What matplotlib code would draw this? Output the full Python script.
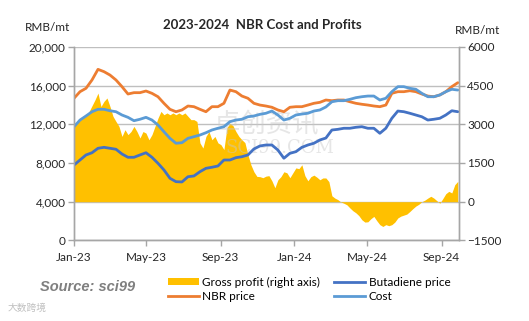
import pandas as pd
import numpy as np
import matplotlib
matplotlib.use("Agg")
import matplotlib.pyplot as plt
import matplotlib.dates as mdates
from matplotlib.ticker import FuncFormatter, FixedLocator
from matplotlib.patches import Patch
from matplotlib.lines import Line2D

plt.rcParams['font.family'] = ['Lato', 'DejaVu Sans']

# ~10-day samples, Jan 1 2023 .. Sep 28 2024 (RMB/mt)
price_dates = pd.date_range("2023-01-01", "2024-09-28", periods=65)
nbr_price = [14690, 15370, 15720, 16580, 17680, 17440, 17090, 16580, 15890, 15130,
             15270, 15270, 15440, 15200, 14850, 14170, 13550, 13300, 13480, 13890,
             13820, 13550, 13300, 13820, 13820, 14170, 15540, 15370, 14920, 14690,
             14170, 13990, 13890, 13760, 13480, 13300, 13760, 13820, 13820, 13990,
             14170, 14270, 14510, 14440, 14510, 14510, 14330, 14170, 14070, 13990,
             13890, 13820, 13990, 15200, 15370, 15370, 15470, 15370, 15130, 14920,
             14850, 15030, 15370, 15890, 16300]
cost = [11750, 12440, 12860, 13300, 13550, 13550, 13400, 13300, 12960, 12720,
        12370, 12520, 12720, 12440, 11930, 11230, 10550, 10040, 10100, 10550,
        10720, 10890, 11130, 11410, 11590, 11750, 12270, 12440, 12520, 12780,
        12860, 13030, 13140, 13370, 12960, 12440, 12620, 12960, 13060, 13140,
        13370, 13480, 13790, 14330, 14440, 14440, 14580, 14750, 14850, 14920,
        14920, 14510, 14690, 15370, 15890, 15890, 15720, 15620, 15200, 14850,
        14850, 15030, 15370, 15620, 15540]
butadiene_price = [7790, 8310, 8830, 9060, 9520, 9620, 9520, 9420, 8930, 8590,
                   8590, 8830, 9060, 8590, 7970, 7280, 6420, 6070, 6040, 6580,
                   6660, 7100, 7450, 7560, 7690, 8310, 8310, 8550, 8650, 8830,
                   9450, 9760, 9860, 9860, 9340, 8490, 9000, 9170, 9620, 9860,
                   10040, 10380, 10580, 11410, 11480, 11590, 11590, 11690, 11750, 11590,
                   11590, 11070, 11590, 12620, 13370, 13300, 13140, 12960, 12780, 12440,
                   12520, 12620, 12960, 13400, 13300]

# ~5-day samples of gross profit (right axis)
profit_dates = pd.date_range("2023-01-01", "2024-09-28", periods=129)
gross_profit = [2980, 3100, 3180, 3260, 3310, 3490, 3720, 3950, 4210, 3690,
                3890, 4020, 3690, 3310, 3110, 2920, 2530, 2790, 2600, 2720,
                2920, 2720, 2470, 2720, 2660, 2400, 2600, 2920, 3240, 3500,
                3370, 3440, 3370, 3440, 3370, 3440, 3370, 3440, 3310, 3180,
                3180, 3110, 2280, 2080, 2530, 2720, 2400, 2530, 2280, 2210,
                2020, 2870, 3040, 2950, 2720, 2530, 2400, 2290, 1820, 1430,
                1160, 980, 970, 930, 990, 1010, 810, 540, 850, 970,
                1160, 1120, 930, 1120, 1310, 1280, 1430, 1010, 810, 970,
                1030, 950, 850, 920, 920, 780, 230, 140, 80, -10,
                -60, -120, -240, -350, -430, -540, -700, -790, -780, -660,
                -570, -740, -890, -960, -890, -930, -890, -790, -630, -560,
                -520, -480, -380, -270, -170, -100, 0, 60, 140, 210,
                140, 40, -60, 120, 310, 400, 340, 660, 790]

left_ticks = [0, 4000, 8000, 12000, 16000, 20000]
right_ticks = [-1500, 0, 1500, 3000, 4500, 6000]

fig = plt.figure(figsize=(5.29, 3.21), dpi=100)
ax2 = fig.add_axes([0.1399, 0.2511, 0.7278, 0.6028])
ax = ax2.twinx()
ax.yaxis.tick_left()
ax.yaxis.set_label_position("left")
ax2.yaxis.tick_right()

# profit area behind, lines on top
ax2.fill_between(profit_dates, 0, gross_profit, color="#FFC000", linewidth=0, zorder=2)
ax2.set_ylim(-1500, 6000)
ax2.yaxis.set_major_locator(FixedLocator(right_ticks))
ax2.grid(axis="y", color="#BFBFBF", linewidth=1.0, zorder=0)
ax2.set_axisbelow(True)

ax2.text(0.5, 0.60, "卓创资讯", transform=ax2.transAxes, ha="center", va="center",
         fontsize=19, color="#C8C8C8", alpha=0.45, family=["Noto Sans CJK SC"], zorder=3)
ax2.text(0.535, 0.475, "SCI99.COM", transform=ax2.transAxes, ha="center", va="center",
         fontsize=13, color="#C8C8C8", alpha=0.45, family=["DejaVu Serif"], zorder=3)

ax.plot(price_dates, nbr_price, color="#ED7D31", lw=2.0, solid_capstyle="round")
ax.plot(price_dates, cost, color="#5B9BD5", lw=2.0, solid_capstyle="round")
ax.plot(price_dates, butadiene_price, color="#4472C4", lw=2.0, solid_capstyle="round")
ax.set_ylim(0, 20000)
ax.yaxis.set_major_locator(FixedLocator(left_ticks))
ax.yaxis.set_major_formatter(FuncFormatter(lambda v, p: f"{int(v):,}"))

ax2.set_xlim(pd.Timestamp("2023-01-01"), pd.Timestamp("2024-09-30"))
ax2.xaxis.set_major_locator(mdates.MonthLocator(bymonth=[1, 5, 9]))
ax2.xaxis.set_major_formatter(mdates.DateFormatter("%b-%y"))

for a in (ax, ax2):
    a.spines["top"].set_visible(False)
    for s in ("left", "right", "bottom"):
        a.spines[s].set_color("#A6A6A6")
        a.spines[s].set_linewidth(1.0)
    a.tick_params(axis="both", colors="#A6A6A6", labelcolor="#262626",
                  labelsize=8.5, length=4, width=1.0, pad=2)
ax.tick_params(axis="x", length=0)
ax2.tick_params(axis="x", pad=4)

fig.text(0.495, 0.922, "2023-2024  NBR Cost and Profits", ha="center", va="center",
         fontsize=9.5, fontweight="bold", color="#262626")
fig.text(0.047, 0.915, "RMB/mt", ha="left", va="center", fontsize=8.5, color="#262626")
fig.text(0.86, 0.905, "RMB/mt", ha="left", va="center", fontsize=8.5, color="#262626")

fig.text(0.075, 0.105, "Source: sci99", ha="left", va="center", fontsize=10.5,
         fontweight="bold", fontstyle="italic", color="#7F7F7F",
         family=["Liberation Sans", "DejaVu Sans"])
fig.text(0.015, 0.04, "大数跨境", ha="left", va="center", fontsize=7,
         color="#C0C0C0", family=["Noto Sans CJK SC"])

handles = [Patch(facecolor="#FFC000", edgecolor="none"),
           Line2D([], [], color="#ED7D31", lw=2),
           Line2D([], [], color="#4472C4", lw=2),
           Line2D([], [], color="#5B9BD5", lw=2)]
labels = ["Gross profit (right axis)", "NBR price", "Butadiene price", "Cost"]
fig.legend(handles, labels, ncol=2, loc="upper left", bbox_to_anchor=(0.318, 0.138),
           frameon=False, fontsize=8.5, handlelength=2.6, handleheight=0.6,
           handletextpad=0.3, columnspacing=1.2, labelspacing=0.25, borderpad=0,
           borderaxespad=0)

fig.savefig("out.png", dpi=100)
